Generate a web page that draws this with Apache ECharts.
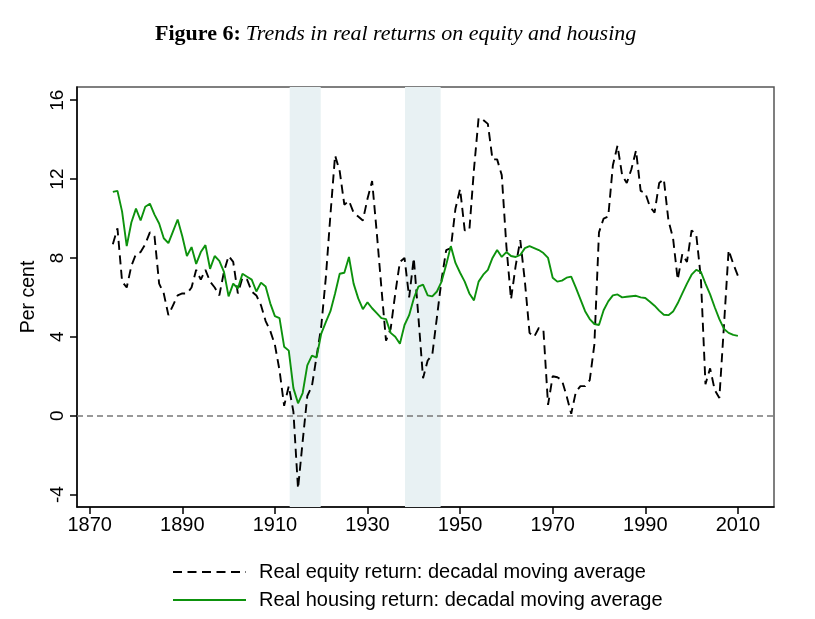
<!DOCTYPE html>
<html>
<head>
<meta charset="utf-8">
<script src="https://cdn.jsdelivr.net/npm/echarts@6/dist/echarts.min.js"></script>
<style>html,body{margin:0;padding:0;background:#fff;}#c{width:815px;height:619px;}</style>
</head>
<body>
<div id="c"></div>
<script>
// Years 1875..2010
const startYear = 1875;
const equity = [
  8.7, 9.5, 6.8, 6.5, 7.6,                      // 1875-1879
  8.2, 8.3, 8.7, 9.3, 9.1, 6.7, 6.2, 5.1, 5.6, 6.1, // 1880-1889
  6.2, 6.2, 6.5, 7.4, 6.9, 7.4, 6.8, 6.5, 6.1, 7.3, // 1890-1899
  8.1, 7.8, 6.2, 7.0, 6.9, 6.3, 6.1, 5.6, 4.8, 4.3, // 1900-1909
  3.6, 2.3, 0.5, 1.5, 0.2, -3.7, -1.3, 1.0, 1.5, 3.0, // 1910-1919
  4.5, 7.0, 10.2, 13.2, 12.4, 10.7, 10.9, 10.3, 10.1, 9.9, // 1920-1929
  11.0, 11.9, 9.3, 6.5, 3.8, 4.4, 6.2, 7.8, 8.0, 6.0, // 1930-1939
  8.0, 5.0, 1.9, 2.8, 3.1, 5.0, 6.9, 8.4, 8.5, 10.5, // 1940-1949
  11.5, 9.4, 9.4, 12.5, 15.1, 15.0, 14.8, 13.0, 13.0, 12.2, // 1950-1959
  8.6, 5.9, 7.6, 8.9, 6.8, 4.2, 4.0, 4.45, 4.35, 0.55, // 1960-1969
  2.0, 1.95, 1.8, 1.0, 0.1, 1.2, 1.5, 1.5, 1.8, 3.6, // 1970-1979
  9.3, 10.0, 10.1, 12.7, 13.7, 12.2, 11.8, 12.5, 13.45, 11.4, // 1980-1989
  11.3, 10.6, 10.3, 11.8, 12.0, 9.9, 9.0, 6.9, 8.2, 7.8, // 1990-1999
  9.4, 9.2, 7.0, 1.6, 2.4, 1.3, 0.9, 4.6, 8.4, 7.7, // 2000-2009
  7.1                                            // 2010
];
const housing = [
  11.35, 11.4, 10.35, 8.6, 9.8,                  // 1875-1879
  10.5, 9.9, 10.6, 10.75, 10.2, 9.75, 9.0, 8.75, 9.35, 9.95, // 1880-1889
  9.1, 8.1, 8.55, 7.7, 8.3, 8.65, 7.45, 8.1, 7.85, 7.3, // 1890-1899
  6.05, 6.7, 6.45, 7.2, 7.05, 6.9, 6.3, 6.75, 6.55, 5.7, // 1900-1909
  5.05, 4.95, 3.5, 3.3, 1.4, 0.63, 1.15, 2.55, 3.05, 2.95, // 1910-1919
  4.15, 4.75, 5.3, 6.2, 7.2, 7.25, 8.05, 6.7, 5.95, 5.4, // 1920-1929
  5.75, 5.45, 5.2, 4.95, 4.9, 4.2, 4.0, 3.65, 4.6, 5.1, // 1930-1939
  5.95, 6.55, 6.65, 6.1, 6.05, 6.3, 6.8, 7.65, 8.6, 7.75, // 1940-1949
  7.25, 6.8, 6.2, 5.85, 6.8, 7.15, 7.4, 8.0, 8.4, 8.05, // 1950-1959
  8.3, 8.1, 8.05, 8.15, 8.5, 8.6, 8.5, 8.4, 8.25, 8.0, // 1960-1969
  7.0, 6.8, 6.85, 7.0, 7.05, 6.5, 5.9, 5.3, 4.9, 4.65, // 1970-1979
  4.6, 5.35, 5.8, 6.1, 6.15, 6.0, 6.03, 6.06, 6.08, 6.0, // 1980-1989
  5.97, 5.78, 5.58, 5.33, 5.12, 5.1, 5.28, 5.7, 6.2, 6.7, // 1990-1999
  7.15, 7.4, 7.3, 6.7, 6.15, 5.5, 4.9, 4.4, 4.2, 4.1, // 2000-2009
  4.05                                           // 2010
];
const xTicks = [1870, 1890, 1910, 1930, 1950, 1970, 1990, 2010];
const yTicks = [-4, 0, 4, 8, 12, 16];
const shadedPeriods = [[1913.2, 1919.9], [1938.1, 1945.8]];
const equityName = 'Real equity return: decadal moving average';
const housingName = 'Real housing return: decadal moving average';

const toPairs = arr => arr.map((v, i) => [startYear + i, v]);

const chart = echarts.init(document.getElementById('c'), null, {renderer: 'canvas'});
const sans = 'Liberation Sans, Arial, sans-serif';
chart.setOption({
  animation: false,
  backgroundColor: '#fff',
  title: {
    text: '{b|Figure 6:} {i|Trends in real returns on equity and housing}',
    left: 150,
    top: 18,
    textStyle: {
      fontWeight: 'normal',
      rich: {
        b: {fontFamily: 'Liberation Serif, serif', fontWeight: 'bold', fontSize: 22, color: '#000'},
        i: {fontFamily: 'Liberation Serif, serif', fontStyle: 'italic', fontWeight: 'normal', fontSize: 22, color: '#000'}
      }
    }
  },
  legend: {
    orient: 'vertical',
    left: 172,
    top: 562,
    padding: 0,
    itemWidth: 73,
    itemHeight: 14,
    itemGap: 8,
    itemStyle: {opacity: 0},
    textStyle: {fontFamily: sans, fontSize: 20, color: '#000', lineHeight: 20, padding: [0, 0, 0, 8]},
    data: [equityName, housingName]
  },
  grid: {
    left: 77, right: 41, top: 87, bottom: 112,
    show: true, borderColor: '#555', borderWidth: 1.5, backgroundColor: 'transparent'
  },
  xAxis: {
    type: 'value',
    min: 1867.26, max: 2017.8,
    axisLine: {show: true, onZero: false, lineStyle: {color: '#000', width: 1.5}},
    axisTick: {show: true, length: 7, lineStyle: {color: '#000', width: 1.5}, customValues: xTicks},
    axisLabel: {fontFamily: sans, fontSize: 20, color: '#000', margin: 8, customValues: xTicks,
      formatter: v => String(v)},
    splitLine: {show: false}
  },
  yAxis: {
    type: 'value',
    min: -4.63, max: 16.67,
    name: 'Per cent',
    nameLocation: 'middle',
    nameGap: 38,
    nameTextStyle: {fontFamily: sans, fontSize: 19.5, color: '#000'},
    axisLine: {show: true, onZero: false, lineStyle: {color: '#000', width: 1.5}},
    axisTick: {show: true, length: 7, lineStyle: {color: '#000', width: 1.5}, customValues: yTicks},
    axisLabel: {fontFamily: sans, fontSize: 19, color: '#000', rotate: 90, margin: 10, customValues: yTicks},
    splitLine: {show: false}
  },
  series: [
    {
      name: 'bands',
      type: 'line',
      data: [],
      z: 1,
      silent: true,
      markArea: {
        silent: true,
        itemStyle: {color: '#e8f1f3'},
        data: shadedPeriods.map(p => [{xAxis: p[0]}, {xAxis: p[1]}])
      },
      markLine: {
        silent: true,
        symbol: 'none',
        label: {show: false},
        lineStyle: {color: '#777', type: [6, 4], width: 1.5},
        data: [{yAxis: 0}]
      }
    },
    {
      name: equityName,
      type: 'line',
      z: 3,
      data: toPairs(equity),
      symbol: 'none',
      lineStyle: {color: '#000', width: 1.9, type: [9, 5.5]},
      itemStyle: {color: '#000'}
    },
    {
      name: housingName,
      type: 'line',
      z: 4,
      data: toPairs(housing),
      symbol: 'none',
      lineStyle: {color: '#0d920d', width: 1.9},
      itemStyle: {color: '#0d920d'}
    }
  ]
});
</script>
</body>
</html>
